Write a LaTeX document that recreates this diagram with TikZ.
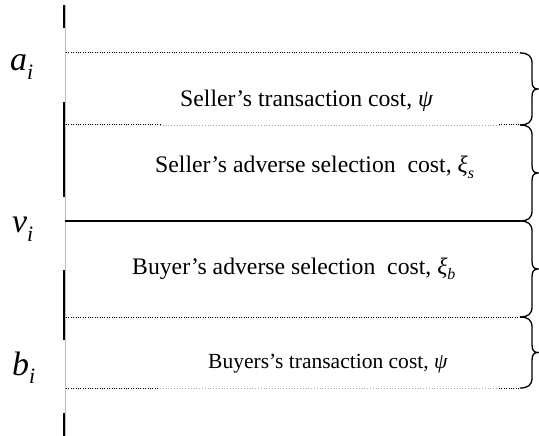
\documentclass[tikz,border=0pt]{standalone}
\usepackage{fontspec}
\setmainfont{Liberation Serif}
\begin{document}
\begin{tikzpicture}[x=1bp,y=-1bp,
  axisgray/.style={draw=black!25,line width=0.8bp},
  axisbold/.style={draw=black,line width=2bp},
  dotline/.style={draw=black,line width=1bp,dash pattern=on 1bp off 1.4bp},
  faintline/.style={draw=black!35,line width=0.8bp,dash pattern=on 0.8bp off 2bp},
  solidline/.style={draw=black,line width=1.3bp},
  bracestyle/.style={draw=black,line width=1.3bp},
  txt/.style={inner sep=0pt,anchor=base west,font=\fontsize{23.8}{26}\selectfont},
  txtsmall/.style={inner sep=0pt,anchor=base west,font=\fontsize{21.6}{24}\selectfont},
  lbl/.style={inner sep=0pt,anchor=base west,font=\fontsize{34}{38}\selectfont\itshape}]
\useasboundingbox (0,0) rectangle (539,436);
% vertical axis
\coordinate (axT) at (65.5,5);
\coordinate (axB) at (65.5,436);
\draw[axisgray] (axT) -- (axB);
\foreach \ya/\yb/\nm in {5/28/s1,102/197/s2,270/340/s3,413/436/s4}{
  \coordinate (\nm t) at (63.5,\ya);
  \coordinate (\nm b) at (63.5,\yb);
  \draw[axisbold] (\nm t) -- (\nm b);
}
% horizontal level lines
\coordinate (aL) at (66,53);  \coordinate (aR) at (520,53);
\coordinate (tL) at (66,125); \coordinate (tM1) at (160,125); \coordinate (tM2) at (499,125); \coordinate (tR) at (520,125);
\coordinate (vL) at (65,221); \coordinate (vR) at (520,221);
\coordinate (uL) at (66,317); \coordinate (uR) at (520,317);
\coordinate (bL) at (66,388); \coordinate (bM1) at (160,388); \coordinate (bM2) at (499,388); \coordinate (bR) at (520,388);
\draw[dotline] (aL) -- (aR);
\draw[dotline] (tL) -- (tM1);
\draw[faintline] (tM1) -- (tM2);
\draw[dotline] (tM2) -- (tR);
\draw[solidline] (vL) -- (vR);
\draw[dotline] (uL) -- (uR);
\draw[dotline] (bL) -- (bM1);
\draw[faintline] (bM1) -- (bM2);
\draw[dotline] (bM2) -- (bR);
% braces
\foreach \ya/\yb in {53/125,125/221,221/317,317/388}{
  \pgfmathsetmacro\ym{(\ya+\yb)/2}
  \draw[bracestyle] (520,\ya) .. controls (528,\ya) and (532,\ya+3) .. (532,\ya+10)
    -- (532,\ym-8) .. controls (532,\ym-2) and (534,\ym) .. (538,\ym)
    .. controls (534,\ym) and (532,\ym+2) .. (532,\ym+8)
    -- (532,\yb-10) .. controls (532,\yb-3) and (528,\yb) .. (520,\yb);
}
% level labels
\node[lbl] (la) at (10,71) {a\raisebox{-0.25em}{\fontsize{22}{24}\selectfont i}};
\node[lbl] (lv) at (12,233) {v\raisebox{-0.25em}{\fontsize{22}{24}\selectfont i}};
\node[lbl] (lb) at (12,375) {b\raisebox{-0.25em}{\fontsize{22}{24}\selectfont i}};
% cost texts
\node[txt] (t1) at (180,107) {Seller’s transaction cost, \textit{ψ}};
\node[txt] (t2) at (155,173) {Seller’s adverse selection\ \ cost, \textit{ξ}\raisebox{-0.22em}{\fontsize{16}{18}\selectfont\itshape s}};
\node[txt] (t3) at (132,274) {Buyer’s adverse selection\ \ cost, \textit{ξ}\raisebox{-0.22em}{\fontsize{16}{18}\selectfont\itshape b}};
\node[txtsmall] (t4) at (208,368) {Buyers’s transaction cost, \textit{ψ}};
\end{tikzpicture}
\end{document}
